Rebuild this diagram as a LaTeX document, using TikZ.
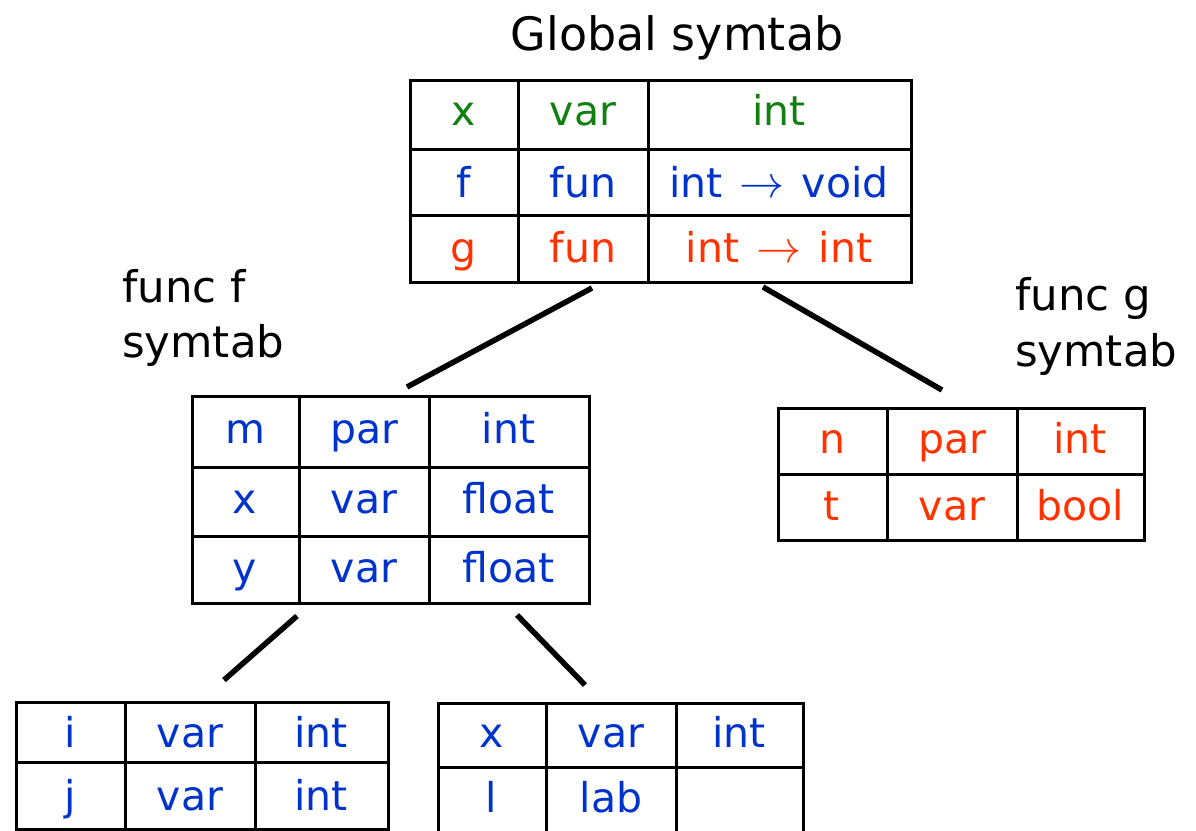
\documentclass[tikz,border=0pt]{standalone}
\usepackage{graphicx}
\usepackage{fontspec}
\setmainfont{DejaVu Sans}
\definecolor{cgreen}{RGB}{16,128,16}
\definecolor{cblue}{RGB}{0,51,204}
\definecolor{cred}{RGB}{255,51,0}
\newcommand{\arr}{\hspace{0.1em}\resizebox{45pt}{!}{$\rightarrow$}\hspace{0.1em}}
\begin{document}
\begin{tikzpicture}[x=1pt,y=-1pt,
  frame/.style={draw, line width=3pt, inner sep=0pt, anchor=north west},
  grid/.style={line width=3pt},
  link/.style={line width=5.5pt},
  cell/.style={anchor=base, inner sep=0pt, font=\fontsize{41}{48}\selectfont},
  lab/.style={anchor=base west, inner sep=0pt, font=\fontsize{43.5}{52}\selectfont},
  ttl/.style={anchor=base, inner sep=0pt, font=\fontsize{46}{55}\selectfont}]
\useasboundingbox (0,0) rectangle (1196,830);
\fill[white] (0,0) rectangle (1196,830);

% ---------- titles
\node[ttl] (gt) at (677,50) {Global symtab};
\node[lab] (ft1) at (122,302) {func f};
\node[lab] (ft2) at (122,357) {symtab};
\node[lab] (gt1) at (1015,310) {func g};
\node[lab] (gt2) at (1015,366) {symtab};

% ---------- global table
\node[frame, minimum width=501pt, minimum height=202pt] (G) at (409,79) {};
\draw[grid] (518,79) -- (518,281) (648,79) -- (648,281)
            (409,149) -- (910,149) (409,215) -- (910,215);
\node[cell, text=cgreen] (g11) at (463.5,125) {x};
\node[cell, text=cgreen] (g12) at (583,125) {var};
\node[cell, text=cgreen] (g13) at (779,125) {int};
\node[cell, text=cblue] (g21) at (463.5,197) {f};
\node[cell, text=cblue] (g22) at (583,197) {fun};
\node[cell, text=cblue] (g23) at (779,197) {int \arr{} void};
\node[cell, text=cred] (g31) at (463.5,262) {g};
\node[cell, text=cred] (g32) at (583,262) {fun};
\node[cell, text=cred] (g33) at (779,262) {int \arr{} int};

% ---------- func f table
\node[frame, minimum width=397pt, minimum height=207pt] (F) at (191,395) {};
\draw[grid] (299,395) -- (299,602) (429,395) -- (429,602)
            (191,467) -- (588,467) (191,536) -- (588,536);
\node[cell, text=cblue] (f11) at (245,443) {m};
\node[cell, text=cblue] (f12) at (364,443) {par};
\node[cell, text=cblue] (f13) at (508.5,443) {int};
\node[cell, text=cblue] (f21) at (245,513) {x};
\node[cell, text=cblue] (f22) at (364,513) {var};
\node[cell, text=cblue] (f23) at (508.5,513) {float};
\node[cell, text=cblue] (f31) at (245,582) {y};
\node[cell, text=cblue] (f32) at (364,582) {var};
\node[cell, text=cblue] (f33) at (508.5,582) {float};

% ---------- func g table
\node[frame, minimum width=366pt, minimum height=132pt] (H) at (777,407) {};
\draw[grid] (887,407) -- (887,539) (1017,407) -- (1017,539)
            (777,474) -- (1143,474);
\node[cell, text=cred] (h11) at (832,453) {n};
\node[cell, text=cred] (h12) at (952,453) {par};
\node[cell, text=cred] (h13) at (1080,453) {int};
\node[cell, text=cred] (h21) at (832,520) {t};
\node[cell, text=cred] (h22) at (952,520) {var};
\node[cell, text=cred] (h23) at (1080,520) {bool};

% ---------- bottom-left table
\node[frame, minimum width=372pt, minimum height=127pt] (L) at (15,701) {};
\draw[grid] (125,701) -- (125,828) (255,701) -- (255,828)
            (15,762) -- (387,762);
\node[cell, text=cblue] (l11) at (70,747) {i};
\node[cell, text=cblue] (l12) at (190,747) {var};
\node[cell, text=cblue] (l13) at (321,747) {int};
\node[cell, text=cblue] (l21) at (70,810) {j};
\node[cell, text=cblue] (l22) at (190,810) {var};
\node[cell, text=cblue] (l23) at (321,810) {int};

% ---------- bottom-right table
\node[frame, minimum width=365pt, minimum height=140pt] (R) at (437,702) {};
\draw[grid] (546,702) -- (546,842) (676,702) -- (676,842)
            (437,767) -- (802,767);
\node[cell, text=cblue] (r11) at (491.5,747) {x};
\node[cell, text=cblue] (r12) at (611,747) {var};
\node[cell, text=cblue] (r13) at (739,747) {int};
\node[cell, text=cblue] (r21) at (491.5,812) {l};
\node[cell, text=cblue] (r22) at (611,812) {lab};

% ---------- connectors
\coordinate (Ga) at (592,288);
\coordinate (Gb) at (763,287);
\coordinate (Ft) at (407,387);
\coordinate (Ht) at (942,390);
\coordinate (Fa) at (297,616);
\coordinate (Fb) at (517,615);
\coordinate (Lt) at (224,680);
\coordinate (Rt) at (585,685);
\draw[link] (Ga) -- (Ft);
\draw[link] (Gb) -- (Ht);
\draw[link] (Fa) -- (Lt);
\draw[link] (Fb) -- (Rt);
\end{tikzpicture}
\end{document}
